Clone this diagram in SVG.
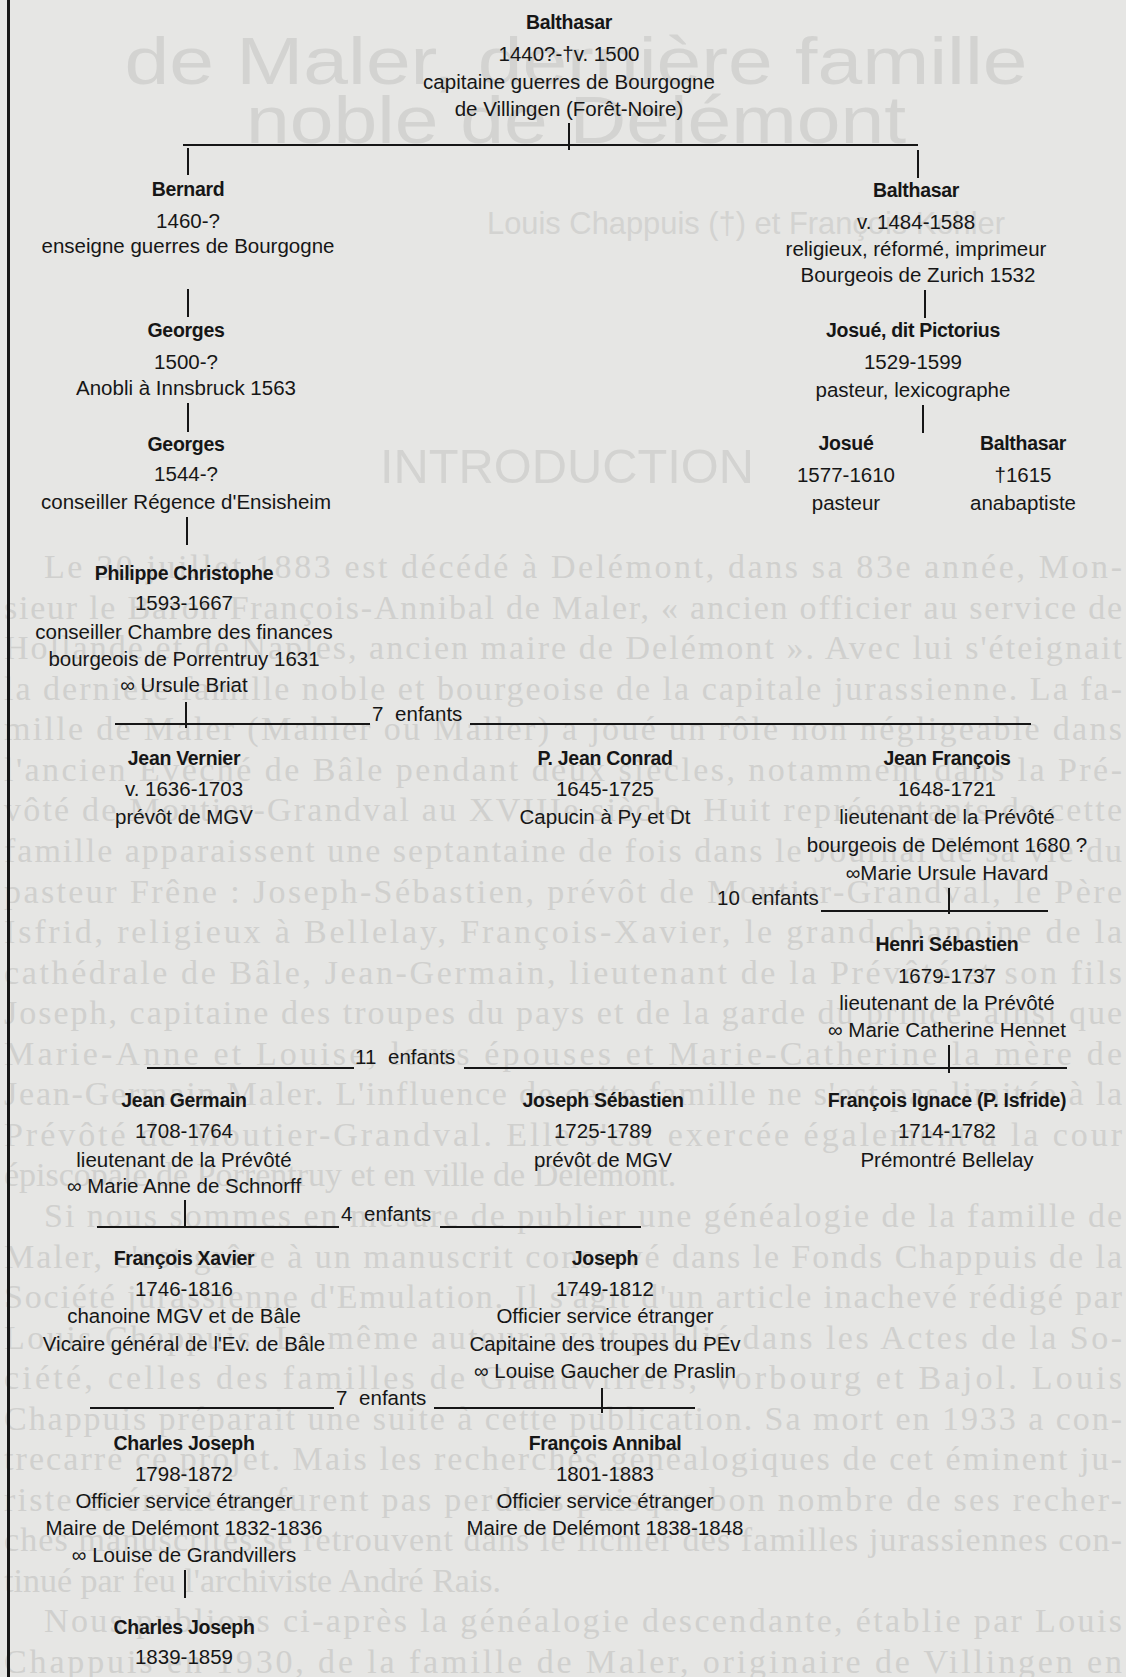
<svg xmlns="http://www.w3.org/2000/svg" width="1126" height="1677" viewBox="0 0 1126 1677">
<style>
.bg{fill:#e6e6e4}
.n{font-family:"Liberation Sans",Arial,sans-serif;font-weight:bold;font-size:19.5px;text-anchor:middle;fill:#161616;letter-spacing:-0.3px}
.t{font-family:"Liberation Sans",Arial,sans-serif;font-size:20.5px;text-anchor:middle;fill:#161616}
.e{font-family:"Liberation Sans",Arial,sans-serif;font-size:20.5px;fill:#161616;word-spacing:6px}
.c line{stroke:#161616;stroke-width:2}
.gp{font-family:"Liberation Serif","Times New Roman",serif;font-size:34px;fill:#d0d0ce}
.gt{font-family:"Liberation Sans",Arial,sans-serif;fill:#d3d3d1;text-anchor:middle}
</style>
<rect class="bg" x="0" y="0" width="1126" height="1677"/>
<g id="ghost">
<text class="gt" x="576" y="84" font-size="66" textLength="903" lengthAdjust="spacingAndGlyphs">de Maler, dernière famille</text>
<text class="gt" x="576" y="143" font-size="66" textLength="660" lengthAdjust="spacingAndGlyphs">noble de Delémont</text>
<text class="gt" x="746" y="234" font-size="32" textLength="518" lengthAdjust="spacingAndGlyphs">Louis Chappuis (†) et François Kohler</text>
<text class="gt" x="567" y="483" font-size="48" textLength="374" lengthAdjust="spacingAndGlyphs">INTRODUCTION</text>
<g class="gp">
<text x="44" y="578" textLength="1078">Le 30 juillet 1883 est décédé à Delémont, dans sa 83e année, Mon-</text>
<text x="4" y="619" textLength="1118">sieur le Baron François-Annibal de Maler, « ancien officier au service de</text>
<text x="4" y="659" textLength="1118">Hollande et de Naples, ancien maire de Delémont ». Avec lui s'éteignait</text>
<text x="4" y="700" textLength="1118">la dernière famille noble et bourgeoise de la capitale jurassienne. La fa-</text>
<text x="4" y="740" textLength="1118">mille de Maler (Mahler ou Maller) a joué un rôle non négligeable dans</text>
<text x="4" y="781" textLength="1118">l'ancien Evêché de Bâle pendant deux siècles, notamment dans la Pré-</text>
<text x="4" y="821" textLength="1118">vôté de Moutier-Grandval au XVIIIe siècle. Huit représentants de cette</text>
<text x="4" y="862" textLength="1118">famille apparaissent une septantaine de fois dans le Journal de sa vie du</text>
<text x="4" y="903" textLength="1118">pasteur Frêne : Joseph-Sébastien, prévôt de Moutier-Grandval, le Père</text>
<text x="4" y="943" textLength="1118">Isfrid, religieux à Bellelay, François-Xavier, le grand chanoine de la</text>
<text x="4" y="984" textLength="1118">cathédrale de Bâle, Jean-Germain, lieutenant de la Prévôté et son fils</text>
<text x="4" y="1024" textLength="1118">Joseph, capitaine des troupes du pays et de la garde du prince, ainsi que</text>
<text x="4" y="1065" textLength="1118">Marie-Anne et Louise, leurs épouses et Marie-Catherine la mère de</text>
<text x="4" y="1105" textLength="1118">Jean-Germain Maler. L'influence de cette famille ne s'est pas limitée à la</text>
<text x="4" y="1146" textLength="1118">Prévôté de Moutier-Grandval. Elle s'est exercée également à la cour</text>
<text x="4" y="1186">épiscopale de Porrentruy et en ville de Delémont.</text>
<text x="44" y="1227" textLength="1078">Si nous sommes en mesure de publier une généalogie de la famille de</text>
<text x="4" y="1268" textLength="1118">Maler, c'est grâce à un manuscrit conservé dans le Fonds Chappuis de la</text>
<text x="4" y="1308" textLength="1118">Société jurassienne d'Emulation. Il s'agit d'un article inachevé rédigé par</text>
<text x="4" y="1349" textLength="1118">Louis Chappuis. Le même auteur avait publié dans les Actes de la So-</text>
<text x="4" y="1389" textLength="1118">ciété, celles des familles de Grandvillers, Vorbourg et Bajol. Louis</text>
<text x="4" y="1430" textLength="1118">Chappuis préparait une suite à cette publication. Sa mort en 1933 a con-</text>
<text x="4" y="1470" textLength="1118">trecarré ce projet. Mais les recherches généalogiques de cet éminent ju-</text>
<text x="4" y="1511" textLength="1118">riste et érudit ne furent pas perdues puisque bon nombre de ses recher-</text>
<text x="4" y="1551" textLength="1118">ches manuscrites se retrouvent dans le fichier des familles jurassiennes con-</text>
<text x="4" y="1592">tinué par feu l'archiviste André Rais.</text>
<text x="44" y="1632" textLength="1078">Nous publions ci-après la généalogie descendante, établie par Louis</text>
<text x="4" y="1673" textLength="1118">Chappuis en 1930, de la famille de Maler, originaire de Villingen en</text>
</g>
</g>
<line x1="8.5" y1="0" x2="8.5" y2="1677" stroke="#161616" stroke-width="3"/>
<g id="connectors" class="c">
<line x1="569" y1="123" x2="569" y2="150"/>
<line x1="183" y1="145" x2="918" y2="145"/>
<line x1="188" y1="148" x2="188" y2="175"/>
<line x1="918" y1="150" x2="918" y2="178"/>
<line x1="188" y1="289" x2="188" y2="317"/>
<line x1="925" y1="290" x2="925" y2="318"/>
<line x1="188" y1="403" x2="188" y2="432"/>
<line x1="923" y1="405" x2="923" y2="433"/>
<line x1="187" y1="517" x2="187" y2="545"/>
<line x1="186" y1="702" x2="186" y2="728"/>
<line x1="115" y1="724" x2="370" y2="724"/>
<line x1="470" y1="724" x2="1031" y2="724"/>
<line x1="949" y1="888" x2="949" y2="914"/>
<line x1="821" y1="911" x2="1048" y2="911"/>
<line x1="949" y1="1045" x2="949" y2="1073"/>
<line x1="147" y1="1068" x2="354" y2="1068"/>
<line x1="464" y1="1068" x2="1067" y2="1068"/>
<line x1="185" y1="1200" x2="185" y2="1228"/>
<line x1="97" y1="1227" x2="339" y2="1227"/>
<line x1="440" y1="1227" x2="641" y2="1227"/>
<line x1="602" y1="1388" x2="602" y2="1413"/>
<line x1="90" y1="1408" x2="334" y2="1408"/>
<line x1="434" y1="1408" x2="695" y2="1408"/>
<line x1="185" y1="1570" x2="185" y2="1598"/>
</g>
<g id="labels-enfants">
<text class="e" x="372" y="721">7 enfants</text>
<text class="e" x="717" y="905">10 enfants</text>
<text class="e" x="355" y="1064">11 enfants</text>
<text class="e" x="341" y="1221">4 enfants</text>
<text class="e" x="336" y="1405">7 enfants</text>
</g>
<g id="balthasar-1440">
<text class="n" x="569" y="29">Balthasar</text>
<text class="t" x="569" y="61">1440?-†v. 1500</text>
<text class="t" x="569" y="89">capitaine guerres de Bourgogne</text>
<text class="t" x="569" y="116">de Villingen (Forêt-Noire)</text>
</g>
<g id="bernard">
<text class="n" x="188" y="196">Bernard</text>
<text class="t" x="188" y="228">1460-?</text>
<text class="t" x="188" y="253">enseigne guerres de Bourgogne</text>
</g>
<g id="balthasar-1484">
<text class="n" x="916" y="197">Balthasar</text>
<text class="t" x="916" y="229">v. 1484-1588</text>
<text class="t" x="916" y="256">religieux, réformé, imprimeur</text>
<text class="t" x="918" y="282">Bourgeois de Zurich 1532</text>
</g>
<g id="josue-pictorius">
<text class="n" x="913" y="337">Josué, dit Pictorius</text>
<text class="t" x="913" y="369">1529-1599</text>
<text class="t" x="913" y="397">pasteur, lexicographe</text>
</g>
<g id="josue">
<text class="n" x="846" y="450">Josué</text>
<text class="t" x="846" y="482">1577-1610</text>
<text class="t" x="846" y="510">pasteur</text>
</g>
<g id="balthasar-1615">
<text class="n" x="1023" y="450">Balthasar</text>
<text class="t" x="1023" y="482">†1615</text>
<text class="t" x="1023" y="510">anabaptiste</text>
</g>
<g id="georges-1500">
<text class="n" x="186" y="337">Georges</text>
<text class="t" x="186" y="369">1500-?</text>
<text class="t" x="186" y="395">Anobli à Innsbruck 1563</text>
</g>
<g id="georges-1544">
<text class="n" x="186" y="451">Georges</text>
<text class="t" x="186" y="481">1544-?</text>
<text class="t" x="186" y="509">conseiller Régence d'Ensisheim</text>
</g>
<g id="philippe-christophe">
<text class="n" x="184" y="580">Philippe Christophe</text>
<text class="t" x="184" y="610">1593-1667</text>
<text class="t" x="184" y="639">conseiller Chambre des finances</text>
<text class="t" x="184" y="666">bourgeois de Porrentruy 1631</text>
<text class="t" x="184" y="692">∞ Ursule Briat</text>
</g>
<g id="jean-vernier">
<text class="n" x="184" y="765">Jean Vernier</text>
<text class="t" x="184" y="796">v. 1636-1703</text>
<text class="t" x="184" y="824">prévôt de MGV</text>
</g>
<g id="jean-conrad">
<text class="n" x="605" y="765">P. Jean Conrad</text>
<text class="t" x="605" y="796">1645-1725</text>
<text class="t" x="605" y="824">Capucin à Py et Dt</text>
</g>
<g id="jean-francois">
<text class="n" x="947" y="765">Jean François</text>
<text class="t" x="947" y="796">1648-1721</text>
<text class="t" x="947" y="824">lieutenant de la Prévôté</text>
<text class="t" x="947" y="852">bourgeois de Delémont 1680 ?</text>
<text class="t" x="947" y="880">∞Marie Ursule Havard</text>
</g>
<g id="henri-sebastien">
<text class="n" x="947" y="951">Henri Sébastien</text>
<text class="t" x="947" y="983">1679-1737</text>
<text class="t" x="947" y="1010">lieutenant de la Prévôté</text>
<text class="t" x="947" y="1037">∞ Marie Catherine Hennet</text>
</g>
<g id="jean-germain">
<text class="n" x="184" y="1107">Jean Germain</text>
<text class="t" x="184" y="1138">1708-1764</text>
<text class="t" x="184" y="1167">lieutenant de la Prévôté</text>
<text class="t" x="184" y="1193">∞ Marie Anne de Schnorff</text>
</g>
<g id="joseph-sebastien">
<text class="n" x="603" y="1107">Joseph Sébastien</text>
<text class="t" x="603" y="1138">1725-1789</text>
<text class="t" x="603" y="1167">prévôt de MGV</text>
</g>
<g id="francois-ignace">
<text class="n" x="947" y="1107">François Ignace (P. Isfride)</text>
<text class="t" x="947" y="1138">1714-1782</text>
<text class="t" x="947" y="1167">Prémontré Bellelay</text>
</g>
<g id="francois-xavier">
<text class="n" x="184" y="1265">François Xavier</text>
<text class="t" x="184" y="1296">1746-1816</text>
<text class="t" x="184" y="1323">chanoine MGV et de Bâle</text>
<text class="t" x="184" y="1351">Vicaire général de l'Ev. de Bâle</text>
</g>
<g id="joseph">
<text class="n" x="605" y="1265">Joseph</text>
<text class="t" x="605" y="1296">1749-1812</text>
<text class="t" x="605" y="1323">Officier service étranger</text>
<text class="t" x="605" y="1351">Capitaine des troupes du PEv</text>
<text class="t" x="605" y="1378">∞ Louise Gaucher de Praslin</text>
</g>
<g id="charles-joseph-1798">
<text class="n" x="184" y="1450">Charles Joseph</text>
<text class="t" x="184" y="1481">1798-1872</text>
<text class="t" x="184" y="1508">Officier service étranger</text>
<text class="t" x="184" y="1535">Maire de Delémont 1832-1836</text>
<text class="t" x="184" y="1562">∞ Louise de Grandvillers</text>
</g>
<g id="francois-annibal">
<text class="n" x="605" y="1450">François Annibal</text>
<text class="t" x="605" y="1481">1801-1883</text>
<text class="t" x="605" y="1508">Officier service étranger</text>
<text class="t" x="605" y="1535">Maire de Delémont 1838-1848</text>
</g>
<g id="charles-joseph-1839">
<text class="n" x="184" y="1634">Charles Joseph</text>
<text class="t" x="184" y="1664">1839-1859</text>
</g>
</svg>
